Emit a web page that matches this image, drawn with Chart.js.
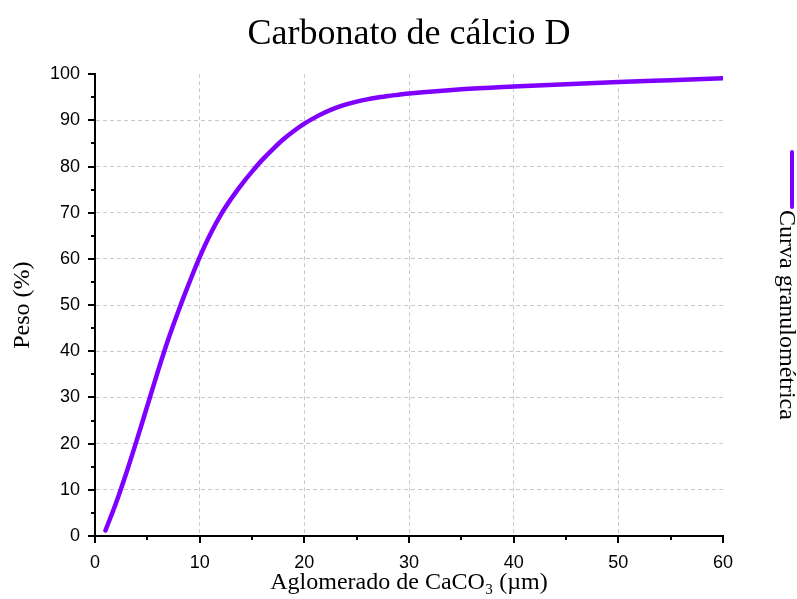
<!DOCTYPE html>
<html>
<head>
<meta charset="utf-8">
<title>Carbonato de cálcio D</title>
<script src="https://cdn.jsdelivr.net/npm/chart.js@4.4.1/dist/chart.umd.min.js"></script>
<style>
  html, body { margin: 0; padding: 0; background: #fff; }
  #wrap { width: 797px; height: 599px; }
</style>
</head>
<body>
<div id="wrap"><canvas id="chart" width="797" height="599"></canvas></div>
<script>
// dados
const tamanho = [1, 2, 3, 4, 5, 6, 7, 8, 9, 10, 11, 12, 13, 14, 15, 16, 17, 18, 19, 20,
  21, 22, 23, 24, 25, 26, 27, 28, 29, 30, 35, 40, 45, 50, 55, 60];
const peso = [1.2, 7.1, 13.7, 20.8, 28.2, 35.6, 42.6, 48.9, 54.8, 60.4, 65.3, 69.5, 73.0, 76.1, 78.9, 81.5, 83.8, 85.9, 87.7, 89.3,
  90.6, 91.75, 92.7, 93.45, 94.05, 94.55, 94.95, 95.3, 95.55, 95.8, 96.75, 97.35, 97.85, 98.3, 98.7, 99.1];
const ticksX = [0, 10, 20, 30, 40, 50, 60];
const ticksY = [0, 10, 20, 30, 40, 50, 60, 70, 80, 90, 100];

const corCurva = '#7f00ff';
const corGrade = '#c8c8c8';

// grade so nos ticks principais internos
const gradeCor = (max) => (ctx) => {
  const v = ctx.tick.value;
  if (v % 10 !== 0 || v === 0 || v === max) return 'rgba(0,0,0,0)';
  return corGrade;
};

// ticks menores/maiores para fora
const marcasPlugin = {
  id: 'marcas',
  afterDraw(chart) {
    const { ctx, scales: { x, y } } = chart;
    ctx.save();
    ctx.strokeStyle = '#000';
    ctx.lineWidth = 2;
    for (let v = x.min; v <= x.max; v += 5) {
      const px = Math.round(x.getPixelForValue(v));
      const len = ticksX.includes(v) ? 7 : 4;
      ctx.beginPath();
      ctx.moveTo(px, x.top);
      ctx.lineTo(px, x.top + len);
      ctx.stroke();
    }
    for (let v = y.min; v <= y.max; v += 5) {
      const py = Math.round(y.getPixelForValue(v));
      const len = ticksY.includes(v) ? 7 : 4;
      ctx.beginPath();
      ctx.moveTo(y.right, py);
      ctx.lineTo(y.right - len, py);
      ctx.stroke();
    }
    ctx.restore();
  }
};

// legenda vertical a direita
const legendaPlugin = {
  id: 'legendaVertical',
  afterDraw(chart) {
    const { ctx } = chart;
    const ds = chart.data.datasets[0];
    const xl = chart.width - 5;
    ctx.save();
    ctx.strokeStyle = ds.borderColor;
    ctx.lineWidth = 4;
    ctx.lineCap = 'round';
    ctx.beginPath();
    ctx.moveTo(xl, 152);
    ctx.lineTo(xl, 207);
    ctx.stroke();
    ctx.translate(xl - 6, 210);
    ctx.rotate(Math.PI / 2);
    ctx.fillStyle = '#000';
    ctx.font = '24px "Liberation Serif"';
    ctx.textAlign = 'left';
    ctx.textBaseline = 'middle';
    ctx.fillText(ds.label, 0, 0);
    ctx.restore();
  }
};

const ctx = document.getElementById('chart').getContext('2d');
new Chart(ctx, {
  type: 'line',
  data: {
    datasets: [{
      label: 'Curva granulométrica',
      data: tamanho.map((t, i) => ({ x: t, y: peso[i] })),
      borderColor: corCurva,
      backgroundColor: corCurva,
      borderWidth: 4.5,
      borderCapStyle: 'round',
      pointRadius: 0,
      cubicInterpolationMode: 'monotone',
      fill: false
    }]
  },
  options: {
    responsive: false,
    animation: false,
    layout: { padding: { left: 0, right: 74, top: 0, bottom: 0 } },
    plugins: {
      legend: { display: false },
      tooltip: { enabled: false },
      title: {
        display: true,
        text: 'Carbonato de cálcio D',
        fullSize: false,
        color: '#000',
        font: { family: 'Liberation Serif', size: 36, weight: 'normal', lineHeight: 1.2 },
        padding: { top: 13, bottom: 18 }
      }
    },
    scales: {
      x: {
        type: 'linear',
        min: 0,
        max: 60,
        afterFit(scale) { scale.height = 63; },
        border: { display: true, color: '#000', width: 2, dash: [4, 3] },
        grid: { drawTicks: false, color: gradeCor(60), lineWidth: 1 },
        ticks: {
          stepSize: 5,
          autoSkip: false,
          maxRotation: 0,
          padding: 16,
          color: '#000',
          font: { family: 'Liberation Sans', size: 18 },
          callback: (v) => ticksX.includes(v) ? v : ''
        },
        title: {
          display: true,
          text: 'Aglomerado de CaCO₃ (µm)',
          color: '#000',
          font: { family: 'Liberation Serif', size: 24 },
          padding: { top: 0, bottom: 2 }
        }
      },
      y: {
        min: 0,
        max: 100,
        afterFit(scale) { scale.width = 95; },
        border: { display: true, color: '#000', width: 2, dash: [4, 3] },
        grid: { drawTicks: false, color: gradeCor(100), lineWidth: 1 },
        ticks: {
          stepSize: 5,
          autoSkip: false,
          padding: 15,
          color: '#000',
          font: { family: 'Liberation Sans', size: 18 },
          callback: (v) => ticksY.includes(v) ? v : ''
        },
        title: {
          display: true,
          text: 'Peso (%)',
          color: '#000',
          font: { family: 'Liberation Serif', size: 24 },
          padding: { top: 8, bottom: 0 }
        }
      }
    }
  },
  plugins: [marcasPlugin, legendaPlugin]
});
</script>
</body>
</html>
